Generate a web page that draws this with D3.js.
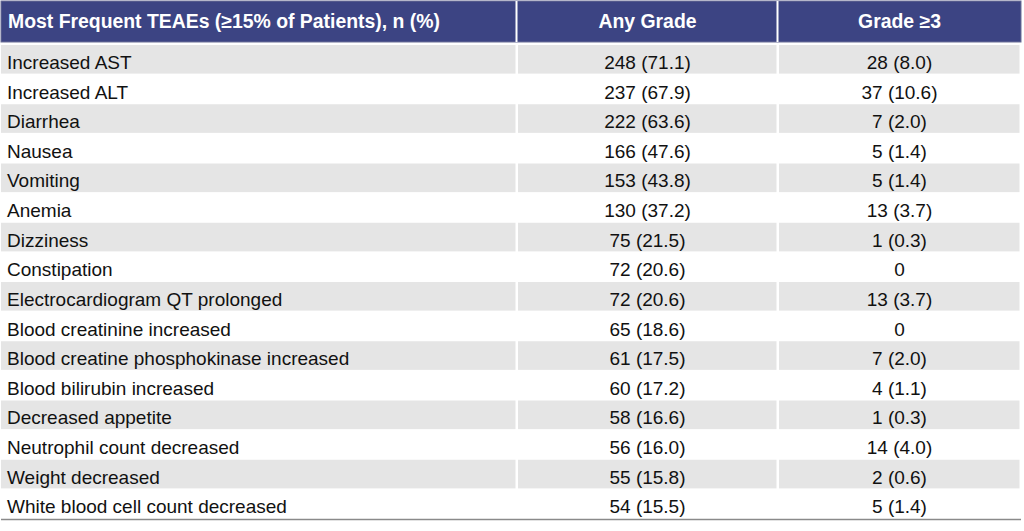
<!DOCTYPE html>
<html>
<head>
    <style>
        body { margin: 0; background: #fff; font-family: "Liberation Sans", Arial, sans-serif; }
    </style>
</head>
<body>
    <svg id="chart" width="1024" height="531"></svg>
    <script src="https://cdnjs.cloudflare.com/ajax/libs/d3/7.8.5/d3.min.js"></script>
    <script>
        // table content
        const columns = ["Most Frequent TEAEs (\u226515% of Patients), n (%)", "Any Grade", "Grade \u22653"];
        const events = [
            "Increased AST", "Increased ALT", "Diarrhea", "Nausea", "Vomiting", "Anemia",
            "Dizziness", "Constipation", "Electrocardiogram QT prolonged", "Blood creatinine increased",
            "Blood creatine phosphokinase increased", "Blood bilirubin increased", "Decreased appetite",
            "Neutrophil count decreased", "Weight decreased", "White blood cell count decreased"
        ];
        const anyGrade = [
            "248 (71.1)", "237 (67.9)", "222 (63.6)", "166 (47.6)", "153 (43.8)", "130 (37.2)",
            "75 (21.5)", "72 (20.6)", "72 (20.6)", "65 (18.6)", "61 (17.5)", "60 (17.2)",
            "58 (16.6)", "56 (16.0)", "55 (15.8)", "54 (15.5)"
        ];
        const grade3 = [
            "28 (8.0)", "37 (10.6)", "7 (2.0)", "5 (1.4)", "5 (1.4)", "13 (3.7)",
            "1 (0.3)", "0", "13 (3.7)", "0", "7 (2.0)", "4 (1.1)",
            "1 (0.3)", "14 (4.0)", "2 (0.6)", "5 (1.4)"
        ];

        const svg = d3.select("#chart");
        const left = 1, right = 1021;
        const colEdges = [left, 517, 778, right];
        const fontSize = 19;

        const y = d3.scaleBand()
            .domain(d3.range(events.length))
            .range([45, 519])
            .padding(0);

        // header band
        svg.append("rect")
            .attr("x", left).attr("y", 1)
            .attr("width", right - left).attr("height", 41)
            .attr("fill", "#3c4483")
            .attr("stroke", "#6a6f96").attr("stroke-width", 1);

        // column separators in header
        colEdges.slice(1, 3).forEach(x => {
            svg.append("rect")
                .attr("x", x - 1.5).attr("y", 1)
                .attr("width", 2).attr("height", 41)
                .attr("fill", "#fff");
        });

        svg.selectAll(".head")
            .data(columns)
            .enter()
            .append("text")
            .attr("x", (d, i) => i === 0 ? 8 : (colEdges[i] + colEdges[i + 1]) / 2)
            .attr("y", 21)
            .attr("dy", "0.35em")
            .attr("text-anchor", (d, i) => i === 0 ? "start" : "middle")
            .attr("fill", "#fff")
            .attr("font-weight", "bold")
            .attr("font-size", 19.4)
            .text(d => d);

        // striped body cells
        const rows = svg.selectAll(".row")
            .data(events)
            .enter()
            .append("g")
            .attr("transform", (d, i) => `translate(0,${y(i)})`);

        rows.filter((d, i) => i % 2 === 0)
            .selectAll("rect")
            .data([0, 1, 2])
            .enter()
            .append("rect")
            .attr("x", c => colEdges[c] + (c === 0 ? 0 : 1))
            .attr("y", 0)
            .attr("width", c => colEdges[c + 1] - colEdges[c] - (c === 0 ? 1.5 : 2.5))
            .attr("height", y.bandwidth() - 1)
            .attr("fill", "#e5e5e5");

        const textY = y.bandwidth() / 2 + 2.5;

        rows.append("text")
            .attr("x", 7)
            .attr("y", textY)
            .attr("dy", "0.35em")
            .attr("font-size", fontSize)
            .attr("fill", "#111")
            .text(d => d);

        rows.append("text")
            .attr("x", (colEdges[1] + colEdges[2]) / 2)
            .attr("y", textY)
            .attr("dy", "0.35em")
            .attr("text-anchor", "middle")
            .attr("font-size", fontSize)
            .attr("fill", "#111")
            .text((d, i) => anyGrade[i]);

        rows.append("text")
            .attr("x", (colEdges[2] + colEdges[3]) / 2)
            .attr("y", textY)
            .attr("dy", "0.35em")
            .attr("text-anchor", "middle")
            .attr("font-size", fontSize)
            .attr("fill", "#111")
            .text((d, i) => grade3[i]);

        // bottom rule
        svg.append("line")
            .attr("x1", left).attr("x2", right)
            .attr("y1", 519.5).attr("y2", 519.5)
            .attr("stroke", "#8a8a8a").attr("stroke-width", 1.5);
    </script>
</body>
</html>
